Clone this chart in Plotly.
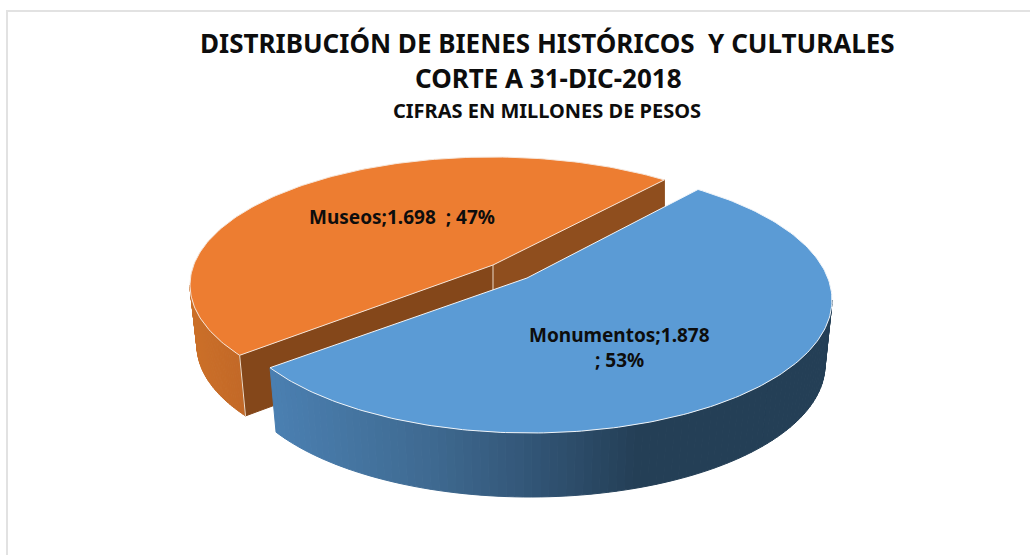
import numpy as np
import plotly.graph_objects as go

# ---- data ----
categories = ["Monumentos", "Museos"]
values = [1878, 1698]
title_lines = ["DISTRIBUCIÓN DE BIENES HISTÓRICOS  Y CULTURALES", "CORTE A 31-DIC-2018", "CIFRAS EN MILLONES DE PESOS"]

total = sum(values)
shares = [v / total for v in values]
fmt = lambda v: f"{v:,}".replace(",", ".")

# ---- drawing geometry: perspective-warped elliptical 3D pie (screen px) ----
W, H = 1030, 555
BLUE, ORANGE = "#5B9BD5", "#ED7D31"
START_ANGLE = -56.2
blue_sweep = 360 * shares[0] * 1.0875
orange_sweep = 360 * shares[1] * 0.925


def ell(c, a, b, t_deg):
    t = np.radians(t_deg)
    return c[0] + a * np.cos(t), c[1] + b * np.sin(t)


def hexmix(stops, x):
    xs = [s[0] for s in stops]
    rgb = np.array([[int(s[1][i:i + 2], 16) for i in (1, 3, 5)] for s in stops], float)
    return "rgb(%d,%d,%d)" % tuple(np.interp(x, xs, rgb[:, k]) for k in range(3))


fig = go.Figure()


def poly(xs, ys, fill, line=None, width=1):
    fig.add_trace(go.Scatter(x=list(xs), y=list(ys), mode="lines", fill="toself", fillcolor=fill,
                             line=dict(color=line or fill, width=width), hoverinfo="skip", showlegend=False))


def seg(xs, ys, color, width=1):
    fig.add_trace(go.Scatter(x=list(xs), y=list(ys), mode="lines", line=dict(color=color, width=width),
                             hoverinfo="skip", showlegend=False))


def wall(c_top, a_top, b_top, c_bot, a_bot, b_bot, t0, t1, stops, n=70):
    ts = np.linspace(t0, t1, n + 1)
    for i in range(n):
        tt = np.array([ts[i], ts[i + 1]])
        xa, ya = ell(c_top, a_top, b_top, tt)
        xb, yb = ell(c_bot, a_bot, b_bot, tt[::-1])
        poly(np.r_[xa, xb, xa[0]], np.r_[ya, yb, ya[0]], hexmix(stops, xa.mean()))


# ---- orange slice (Museos) ----
oc, oa, ob = (492, 285), 302, 128
ocb, oab, obb = (492, 345.6), 295, 128
oapex = (493, 265)
o_t1 = START_ANGLE + 1.0
o_t0 = o_t1 - orange_sweep
ox0, oy0 = ell(oc, oa, ob, o_t1)
ox1, oy1 = ell(oc, oa, ob, o_t0)
oxb1, oyb1 = ell(ocb, oab, obb, o_t0)
# outer wall, left
wall(oc, oa, ob, ocb, oab, obb, -180, o_t0, [(190, "#CC7029"), (246, "#C26827")], n=40)
# inner walls
poly([oxb1, ox1, oapex[0], oapex[0], oxb1], [oyb1, oy1, oapex[1], oapex[1] + 60, oyb1], "#84471A")
poly([oapex[0], ox0, ox0, oapex[0], oapex[0]], [oapex[1], oy0, oy0 + 60, oapex[1] + 60, oapex[1]], "#8F4E1E")
seg([oapex[0], oapex[0]], [oapex[1], oapex[1] + 30], "#E8D8C8", 1)
seg([ox1, oxb1], [oy1, oyb1], "#F0DCC8", 1)
# top face
ts = np.linspace(o_t0, o_t1, 160)
x, y = ell(oc, oa, ob, ts)
poly(np.r_[oapex[0], x, oapex[0]], np.r_[oapex[1], y, oapex[1]], ORANGE, "#F6E6DA", 1)

# ---- blue slice (Monumentos) ----
bc, ba, bb = (530, 300), 302, 133
bcb, bab, bbb = (530, 365), 295, 132
bapex = (527, 278)
b_t0 = START_ANGLE
b_t1 = b_t0 + blue_sweep
wall(bc, ba, bb, bcb, bab, bbb, 0, b_t1,
     [(270, "#4B80B2"), (430, "#3F6A91"), (520, "#34587A"), (640, "#243F56"), (840, "#243F56")], n=90)
ts = np.linspace(b_t0, b_t1, 200)
x, y = ell(bc, ba, bb, ts)
poly(np.r_[bapex[0], x, bapex[0]], np.r_[bapex[1], y, bapex[1]], BLUE, "#F0F5FA", 1)

# ---- frame ----
seg([7, 7, 1030], [555, 11, 11], "#E2E2E2", 2)

# ---- text ----
FONT = "Noto Sans"
ann = []


def text(s, x, y, size, weight=700):
    ann.append(dict(text=s, x=x, y=y, xref="x", yref="y", showarrow=False, xanchor="center", yanchor="middle",
                    font=dict(family=FONT, size=size, color="#0D0D0D", weight=weight)))


text(title_lines[0], 547, 43, 26)
text(title_lines[1], 548, 78, 26)
text(title_lines[2], 547, 110, 20)
p = [round(s * 100) for s in shares]
text(f"{categories[1]};{fmt(values[1])}  ; {p[1]}%", 402, 217, 19)
text(f"{categories[0]};{fmt(values[0])}", 619, 335, 19)
text(f"; {p[0]}%", 619, 360, 19)

fig.update_layout(
    width=W, height=H, margin=dict(l=0, r=0, t=0, b=0),
    paper_bgcolor="white", plot_bgcolor="white",
    xaxis=dict(range=[0, W], visible=False, fixedrange=True),
    yaxis=dict(range=[H, 0], visible=False, fixedrange=True),
    annotations=ann, showlegend=False,
)
fig.write_html("out.html", config=dict(displayModeBar=False),
               post_script="document.body.style.margin='0';document.documentElement.style.overflow='hidden';"
                           "window.dispatchEvent(new Event('resize'));")
